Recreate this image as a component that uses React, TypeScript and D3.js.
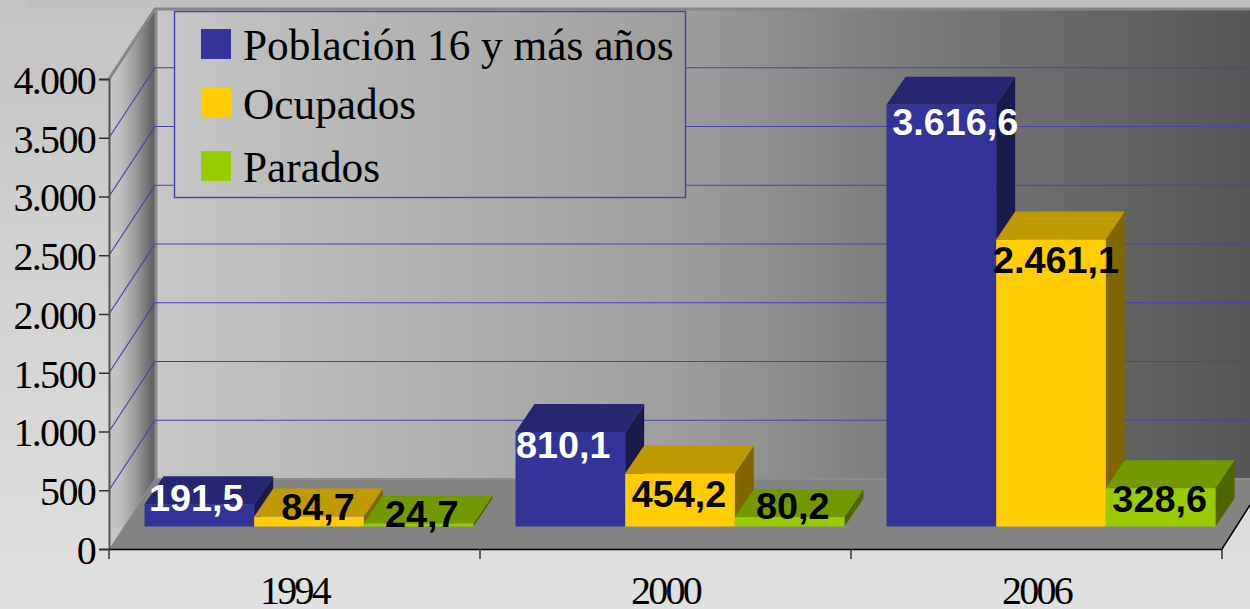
import React, { useEffect, useRef } from 'react'
import * as d3 from 'd3'

const years = ['1994', '2000', '2006']
const seriesNames = ['Población 16 y más años', 'Ocupados', 'Parados']
const poblacion = [191.5, 810.1, 3616.6]
const ocupados = [84.7, 454.2, 2461.1]
const parados = [24.7, 80.2, 328.6]
const yTicks = [0, 500, 1000, 1500, 2000, 2500, 3000, 3500, 4000]

// front, top and side shades per series
const shades = [
  ['#333399', '#262673', '#1a1a4d'],
  ['#ffcc00', '#bf9900', '#806600'],
  ['#99cc00', '#739900', '#4d6600'],
]
const labelColors = ['#fff', '#000', '#000']

// hand tuned label shifts [dx, dy from bar top], by series then year
const labelNudge = [
  [[-3, 7], [-7, 26], [14, 30]],
  [[9, 3], [-1, 33], [5, 34]],
  [[3, 3], [3, 2], [-1, 24]],
]
const legendRows = [44, 103, 166]

const W = 1250
const H = 609
const depthX = 46
const depthY = 70
const barDepthX = 19
const barDepthY = 28

const es = d3.formatLocale({ decimal: ',', thousands: '.', grouping: [3], currency: ['', '€'] })

export default function App() {
  const ref = useRef<SVGSVGElement | null>(null)

  useEffect(() => {
    const svg = d3.select(ref.current)
    svg.selectAll('*').remove()

    const x = d3.scaleBand<string>().domain(years).range([109, 1222])
    const inner = d3.scaleBand<string>().domain(seriesNames).range([35.5, 364.5])
    const y = d3.scaleLinear().domain([0, 4000]).range([549, 79])
    // bars stand a little in front of the axis plane, so they get their own scale
    const barY = d3.scaleLinear().domain([0, 4000]).range([526.5, 60])

    const defs = svg.append('defs')
    const gradient = (id: string, stops: [number, string][], x1 = 0, y1 = 0, x2 = 1, y2 = 0, units = 'objectBoundingBox') => {
      const g = defs.append('linearGradient').attr('id', id).attr('gradientUnits', units)
        .attr('x1', x1).attr('y1', y1).attr('x2', x2).attr('y2', y2)
      stops.forEach(s => g.append('stop').attr('offset', s[0]).attr('stop-color', s[1]))
    }
    gradient('page', [[0, '#c2c2c2'], [0.35, '#cfcfcf'], [1, '#e0e0e0']], 0, 0, 0, 1)
    // same gradient for wall and legend, the legend box looks see through but hides the grid
    gradient('wall', [[0, '#c6c6c6'], [0.46, '#a0a0a0'], [0.65, '#808080'], [1, '#555555']], 155, 0, W, 0, 'userSpaceOnUse')
    gradient('side', [[0, '#c8c8c8'], [0.25, '#c0c0c0'], [0.6, '#989898'], [1, '#5c5c5c']])

    svg.append('rect').attr('width', W).attr('height', H).attr('fill', 'url(#page)')
    svg.append('rect').attr('x', 27).attr('width', W - 27).attr('height', 8).attr('fill', '#c0c0c0')

    const backTop = y(4000) - depthY
    const backBottom = y(0) - depthY

    // back wall, side wall and floor
    svg.append('rect').attr('x', 109 + depthX).attr('y', backTop)
      .attr('width', W - 109 - depthX).attr('height', backBottom - backTop).attr('fill', 'url(#wall)')
    svg.append('polygon').attr('fill', 'url(#side)')
      .attr('points', [[109, y(4000)], [109 + depthX, backTop], [109 + depthX, backBottom], [109, y(0)]].join(' '))
    svg.append('polygon').attr('fill', '#838383')
      .attr('points', [[109, y(0)], [109 + depthX, backBottom], [W, backBottom], [W, y(0) - 44], [1222, y(0)]].join(' '))

    // wall edges
    svg.append('path').attr('fill', 'none').attr('stroke', '#868686').attr('stroke-width', 3)
      .attr('d', `M109,${y(4000)}L${109 + depthX},${backTop}H${W}`)
    svg.append('line').attr('x1', 156).attr('x2', 156).attr('y1', backTop).attr('y2', backBottom)
      .attr('stroke', '#8a8a8a').attr('stroke-width', 3)
    svg.append('line').attr('x1', 109 + depthX).attr('x2', W).attr('y1', backBottom).attr('y2', backBottom)
      .attr('stroke', '#8c8c8c').attr('stroke-width', 2)

    // gridlines run along the side wall and on across the back
    svg.append('g').selectAll('path').data(yTicks.slice(1, -1)).join('path')
      .attr('fill', 'none').attr('stroke', '#4444aa').attr('stroke-width', 1.2)
      .attr('d', d => `M109,${y(d)}L${109 + depthX},${y(d) - depthY}H${W}`)

    // bars, left to right so the later ones cover the earlier sides
    const allSeries = [poblacion, ocupados, parados]
    const bars = years.flatMap((year, i) => allSeries.map((values, s) => ({ year, i, s, value: values[i] })))
    const base = barY(0)
    const barG = svg.append('g')
    bars.forEach(b => {
      const left = x(b.year)! + inner(seriesNames[b.s])!
      const right = left + inner.bandwidth()
      const top = barY(b.value)
      barG.append('polygon').attr('fill', shades[b.s][2])
        .attr('points', [[right, top], [right + barDepthX, top - barDepthY], [right + barDepthX, base - barDepthY], [right, base]].join(' '))
      barG.append('polygon').attr('fill', shades[b.s][1])
        .attr('points', [[left, top], [left + barDepthX, top - barDepthY], [right + barDepthX, top - barDepthY], [right, top]].join(' '))
      barG.append('rect').attr('x', left).attr('y', top).attr('width', right - left).attr('height', base - top)
        .attr('fill', shades[b.s][0])
    })

    // y axis
    const yAxis = svg.append('g').attr('transform', 'translate(109,0)')
      .call(d3.axisLeft(y).tickValues(yTicks).tickSize(10).tickPadding(4).tickFormat(d => es.format(',')(d as number)))
    yAxis.select('.domain').attr('stroke', '#555').attr('stroke-width', 2)
    yAxis.selectAll('.tick line').attr('stroke', '#333').attr('stroke-width', 1.5)
    yAxis.selectAll('text').attr('font-family', '"Liberation Serif"').attr('font-size', 40)
      .attr('letter-spacing', -1.7).attr('fill', '#000').attr('dy', '0.36em')

    // x axis, labels from the band scale and ticks on the band edges
    const xAxis = svg.append('g').attr('transform', `translate(0,${y(0)})`)
      .call(d3.axisBottom(x).tickSize(0).tickPadding(27))
    xAxis.select('.domain').attr('stroke', '#000').attr('stroke-width', 1.5)
    xAxis.selectAll('text').attr('font-family', '"Liberation Serif"').attr('font-size', 40)
      .attr('letter-spacing', -2.7).attr('fill', '#000')
    const edges = [...years.map(d => x(d)!), 1222]
    xAxis.selectAll('line.edge').data(edges).join('line').attr('class', 'edge')
      .attr('x1', d => d).attr('x2', d => d).attr('y1', 0).attr('y2', 10).attr('stroke', '#333').attr('stroke-width', 1.5)
    svg.append('line').attr('x1', 1222).attr('y1', y(0)).attr('x2', W).attr('y2', y(0) - 44)
      .attr('stroke', '#000').attr('stroke-width', 1.5)

    // value labels
    svg.append('g').selectAll('text').data(bars).join('text')
      .attr('x', d => x(d.year)! + inner(seriesNames[d.s])! + inner.bandwidth() / 2 + labelNudge[d.s][d.i][0])
      .attr('y', d => barY(d.value) + labelNudge[d.s][d.i][1])
      .attr('text-anchor', 'middle')
      .attr('font-family', '"Liberation Sans"').attr('font-weight', 700).attr('font-size', 37.8)
      .attr('fill', d => labelColors[d.s])
      .text(d => es.format(',.1f')(d.value))

    // legend
    const legend = svg.append('g')
    legend.append('rect').attr('x', 174.5).attr('y', 11.5).attr('width', 511).attr('height', 186)
      .attr('fill', 'url(#wall)').attr('stroke', '#4444aa').attr('stroke-width', 1.4)
    const items = legend.selectAll('g').data(seriesNames).join('g')
      .attr('transform', (_, i) => `translate(0,${legendRows[i]})`)
    items.append('rect').attr('x', 201).attr('y', -15).attr('width', 30).attr('height', 30)
      .attr('fill', (_, i) => shades[i][0])
    items.append('text').attr('x', 243).attr('y', 16)
      .attr('font-family', '"Liberation Serif"').attr('font-size', 43.3).attr('fill', '#000')
      .text(d => d)
  }, [])

  return (
    <svg ref={ref} width={W} height={H} style={{ position: 'absolute', left: 0, top: 0, display: 'block' }} />
  )
}
